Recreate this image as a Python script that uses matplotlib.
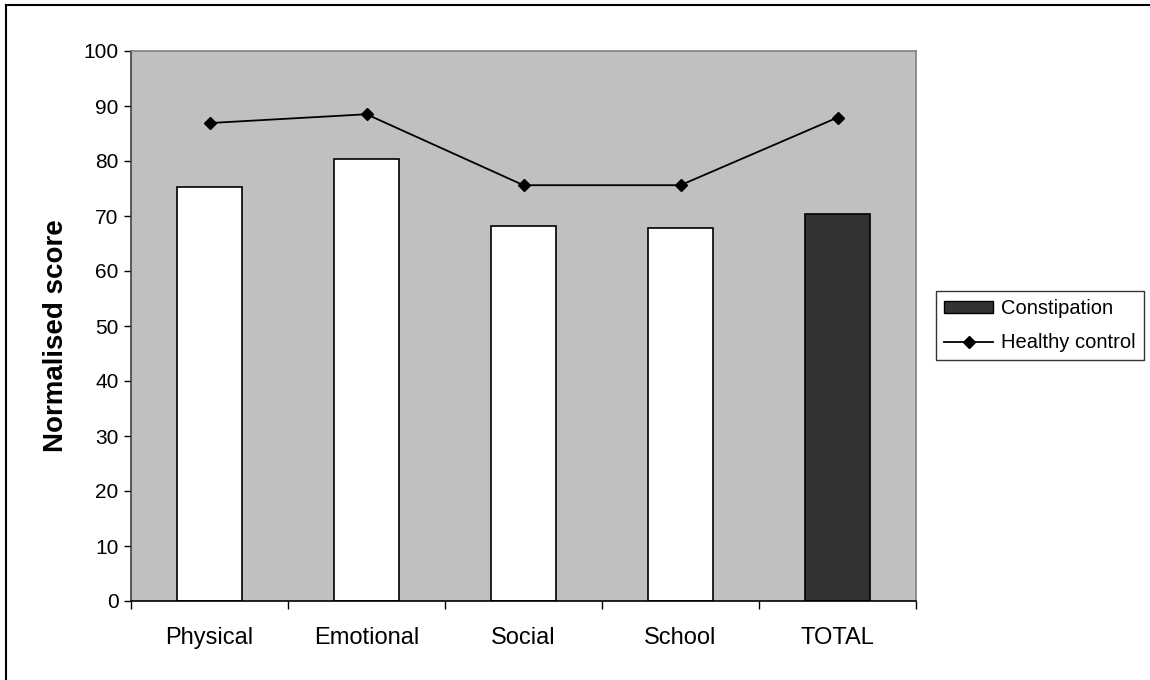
import matplotlib
matplotlib.use("Agg")
import matplotlib.pyplot as plt
from matplotlib.lines import Line2D
from matplotlib.patches import Patch
import numpy as np

plt.rcParams['font.family'] = ['Liberation Sans', 'DejaVu Sans']

categories = ["Physical", "Emotional", "Social", "School", "TOTAL"]
constipation = [75.3, 80.4, 68.2, 67.9, 70.3]
healthy_control = [86.9, 88.5, 75.6, 75.6, 87.9]
bar_colors = ["white", "white", "white", "white", "#333333"]
yticks = list(range(0, 101, 10))

fig = plt.figure(figsize=(11.5, 6.8), dpi=100)
ax = fig.add_axes([131/1150, 1 - 601/680, 785/1150, 550/680])
ax.set_facecolor("#c0c0c0")

x = np.arange(len(categories))
ax.bar(x, constipation, width=0.41, color=bar_colors, edgecolor="black", linewidth=1.2, zorder=2)
ax.plot(x, healthy_control, color="black", linewidth=1.3, marker="D", markersize=6, zorder=3)

ax.set_xlim(-0.5, len(categories) - 0.5)
ax.set_ylim(0, 100)
ax.set_yticks(yticks)
ax.set_yticklabels([str(t) for t in yticks], fontsize=15)
ax.set_xticks(x)
ax.set_xticklabels(categories, fontsize=17)
ax.tick_params(axis='x', length=0, pad=19)
ax.set_xticks(np.arange(-0.5, len(categories), 1.0), minor=True)
ax.tick_params(axis='x', which='minor', length=6, width=1, color="black", direction='out')
ax.tick_params(axis='y', length=5, width=1, color="black", direction='out', pad=4)

ax.spines['left'].set_color("#404040")
ax.spines['bottom'].set_color("black")
ax.spines['top'].set_color("#808080")
ax.spines['right'].set_color("#808080")
for s in ax.spines.values():
    s.set_linewidth(1.2)

ax.set_ylabel("Normalised score", fontsize=20, fontweight='bold')
ax.yaxis.set_label_coords(-0.079, 0.482)

handles = [Patch(facecolor="#333333", edgecolor="black", label="Constipation"),
           Line2D([0], [0], color="black", marker="D", markersize=6, linewidth=1.3, label="Healthy control")]
leg = fig.legend(handles=handles, loc="upper left", bbox_to_anchor=(936/1150, 1 - 291/680),
                 frameon=True, fancybox=False, fontsize=14.5, borderpad=0.4, labelspacing=0.75,
                 handlelength=2.44, handleheight=0.55, handletextpad=0.4, borderaxespad=0)
leg.get_frame().set_edgecolor("black")
leg.get_frame().set_linewidth(1.0)

# partial figure frame (top and left)
fig.add_artist(Line2D([6/1150, 1], [1 - 5/680, 1 - 5/680], transform=fig.transFigure, color="black", linewidth=1.5))
fig.add_artist(Line2D([6/1150, 6/1150], [0, 1 - 5/680], transform=fig.transFigure, color="black", linewidth=1.5))

fig.savefig("out.png", dpi=100, facecolor="white")
